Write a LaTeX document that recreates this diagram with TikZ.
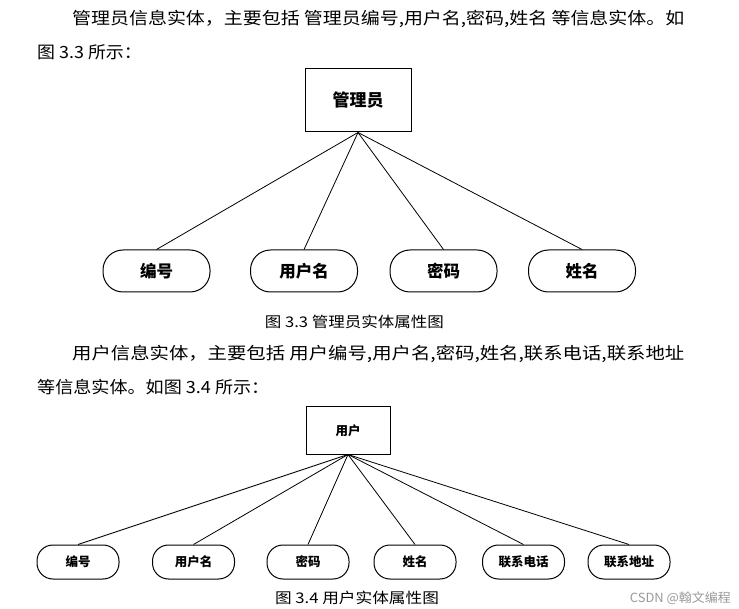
\documentclass[tikz,border=0pt]{standalone}
\usepackage{fontspec}
\newfontfamily\cjk{Noto Sans CJK SC}
\newcommand\wid[2]{\scalebox{#1}[1.05]{#2}}
\begin{document}
\begin{tikzpicture}[x=1pt,y=-1pt,
  body/.style={anchor=west,inner sep=0pt,font=\cjk\fontsize{16}{16}\selectfont},
  figcap/.style={inner sep=0pt,font=\cjk\fontsize{14}{14}\selectfont},
  ent/.style={draw,line width=1pt,inner sep=0pt,font=\cjk\bfseries\fontsize{17}{17}\selectfont},
  attrA/.style={draw,line width=1pt,rounded corners=20pt,minimum width=107pt,minimum height=42pt,inner sep=0pt,font=\cjk\bfseries\fontsize{16.5}{16.5}\selectfont},
  attrB/.style={draw,line width=1pt,rounded corners=16pt,minimum width=82pt,minimum height=34pt,inner sep=0pt,font=\cjk\bfseries\fontsize{12.5}{12.5}\selectfont},
  link/.style={line width=0.8pt}]
\useasboundingbox (0,0) rectangle (739,609);
% paragraph 1
\node[body] (p1) at (72,19) {\wid{1.185}{管理员信息实体，主要包括 管理员编号,用户名,密码,姓名 等信息实体。如}};
\node[body] (p2) at (37,52) {\wid{1.12}{图 3.3 所示：}};
% figure 3.3
\node[ent,minimum width=106pt,minimum height=63pt] (adm) at (358,100.5) {管理员};
\node[attrA] (a1) at (156.5,271) {编号};
\node[attrA] (a2) at (304,271) {用户名};
\node[attrA] (a3) at (443.5,271) {密码};
\node[attrA] (a4) at (582,271) {姓名};
\foreach \n in {a1,a2,a3,a4} \draw[link] (adm.south) -- (\n.north);
\node[figcap] (c1) at (354.5,322) {\wid{1.18}{图 3.3 管理员实体属性图}};
% paragraph 2
\node[body] (p3) at (72,354) {\wid{1.21}{用户信息实体，主要包括 用户编号,用户名,密码,姓名,联系电话,联系地址}};
\node[body] (p4) at (37,387) {\wid{1.13}{等信息实体。如图 3.4 所示：}};
% figure 3.4
\node[ent,minimum width=84pt,minimum height=47pt,font=\cjk\bfseries\fontsize{12.5}{12.5}\selectfont] (usr) at (348,430.5) {用户};
\node[attrB] (b1) at (78,562) {编号};
\node[attrB] (b2) at (193.5,562) {用户名};
\node[attrB] (b3) at (308,562) {密码};
\node[attrB] (b4) at (415,562) {姓名};
\node[attrB] (b5) at (523.5,562) {联系电话};
\node[attrB] (b6) at (629,562) {联系地址};
\foreach \n in {b1,b2,b3,b4,b5,b6} \draw[link] (usr.south) -- (\n.north);
\node[figcap] (c2) at (357,598) {\wid{1.19}{图 3.4 用户实体属性图}};
\node[inner sep=0pt,anchor=east,text=black!40,font=\cjk\fontsize{12}{12}\selectfont] (wm) at (731,598) {\wid{1.08}{CSDN @翰文编程}};
\end{tikzpicture}
\end{document}
